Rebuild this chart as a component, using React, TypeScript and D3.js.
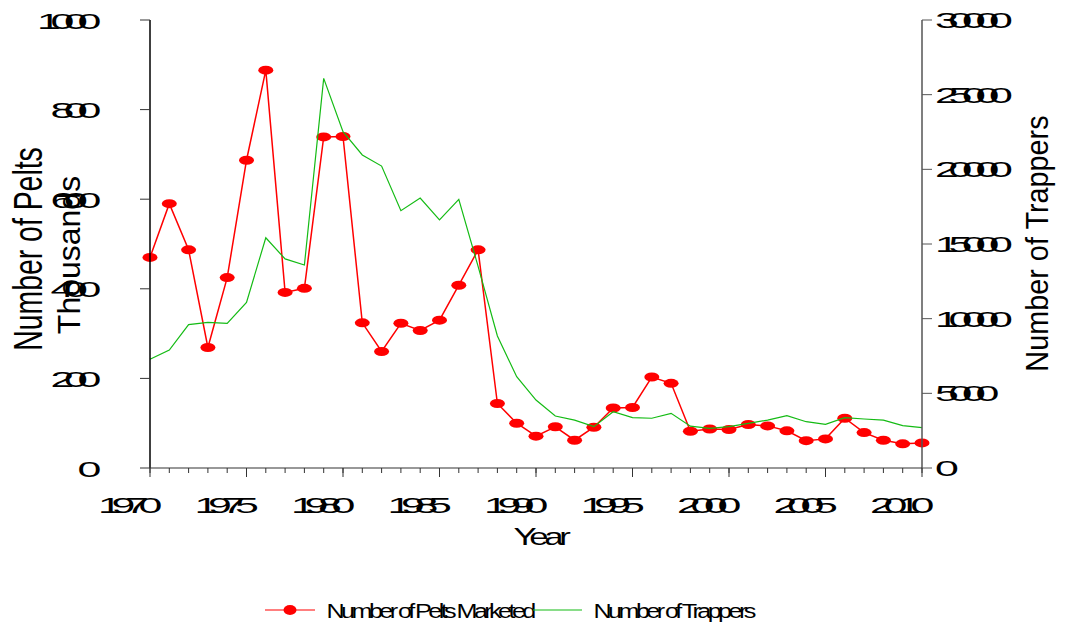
import React from "react";
import * as d3 from "d3";

const years: number[] = d3.range(1970, 2011);
const pelts: number[] = [
  470, 590, 487, 269, 425, 687, 888, 392, 401, 739, 740, 324, 260, 323, 307, 330, 408, 487,
  144, 100, 71, 92, 62, 91, 134, 135, 203, 189, 82, 87, 86, 97, 94, 83, 61, 65, 111, 79, 62, 54, 56,
];
const trappers: number[] = [
  7280, 7900, 9600, 9750, 9690, 11090, 15420, 14000, 13590, 26090, 22520, 20960, 20220, 17230,
  18080, 16610, 17990, 13500, 8840, 6110, 4550, 3480, 3210, 2770, 3770, 3370, 3330, 3660, 2800,
  2660, 2770, 2990, 3210, 3500, 3100, 2920, 3370, 3280, 3210, 2840, 2700,
];
const leftTicks: number[] = [0, 200, 400, 600, 800, 1000];
const rightTicks: number[] = [0, 5000, 10000, 15000, 20000, 25000, 30000];
const xMajorTicks: number[] = [1970, 1975, 1980, 1985, 1990, 1995, 2000, 2005, 2010];
const xMinorTicks: number[] = d3.range(1970, 2011);

const FONT = "'Liberation Sans', Arial, sans-serif";
const RED = "#ff0000";
const GREEN = "#14bb14";

const X0 = 150, X1 = 922, Y0 = 468, Y1 = 20;

type STextProps = {
  x: number; y: number; text: string; size: number; sx?: number; ls?: number;
  anchor?: "start" | "middle" | "end"; rot?: number; fill?: string;
};
function SText({ x, y, text, size, sx = 1, ls = 0, anchor = "start", rot = 0, fill = "#000" }: STextProps) {
  return (
    <text
      transform={`translate(${x},${y}) rotate(${rot}) scale(${sx},1)`}
      fontFamily={FONT}
      fontSize={size}
      letterSpacing={ls}
      textAnchor={anchor}
      fill={fill}
    >
      {text}
    </text>
  );
}

export default function App() {
  const x = d3.scaleLinear().domain([1970, 2010]).range([X0, X1]);
  const yL = d3.scaleLinear().domain([0, 1000]).range([Y0, Y1]);
  const yR = d3.scaleLinear().domain([0, 30000]).range([Y0, Y1]);

  const peltLine = d3.line<number>().x((_, i) => x(years[i])).y((d) => yL(d))(pelts) || "";
  const trapLine = d3.line<number>().x((_, i) => x(years[i])).y((d) => yR(d))(trappers) || "";

  const NUM = { size: 22, sx: 1.95, ls: -5.3 };

  return (
    <svg
      width={1073}
      height={624}
      style={{ position: "absolute", left: 0, top: 0, background: "#fff" }}
    >
      <rect x={0} y={0} width={1073} height={624} fill="#fff" />

      {/* data */}
      <path d={peltLine} fill="none" stroke={RED} strokeWidth={1.5} />
      {pelts.map((v, i) => (
        <ellipse key={i} cx={x(years[i])} cy={yL(v)} rx={7.5} ry={4.5} fill={RED} />
      ))}
      <path d={trapLine} fill="none" stroke={GREEN} strokeWidth={1.2} />

      {/* left axis */}
      <line x1={X0} y1={Y1} x2={X0} y2={Y0} stroke="#000" strokeWidth={1.5} />
      {leftTicks.map((t) => (
        <g key={"l" + t}>
          <line x1={X0 - 10} x2={X0} y1={yL(t)} y2={yL(t)} stroke="#333" strokeWidth={1} />
          <SText x={91} y={yL(t) + 8.5} text={String(t)} size={NUM.size} sx={NUM.sx} ls={NUM.ls} anchor="end" />
        </g>
      ))}

      {/* right axis */}
      <line x1={X1} y1={Y1} x2={X1} y2={Y0} stroke="#555" strokeWidth={1.5} />
      {rightTicks.map((t) => (
        <g key={"r" + t}>
          <line x1={X1} x2={X1 + 10} y1={yR(t)} y2={yR(t)} stroke="#555" strokeWidth={1} />
          <SText x={935} y={yR(t) + 8} text={String(t)} size={NUM.size} sx={NUM.sx} ls={NUM.ls} anchor="start" />
        </g>
      ))}

      {/* x axis */}
      <line x1={X0} y1={Y0} x2={X1} y2={Y0} stroke="#333" strokeWidth={1.2} />
      {xMinorTicks.map((t) => (
        <line key={"m" + t} x1={x(t)} x2={x(t)} y1={Y0} y2={Y0 + 5} stroke="#333" strokeWidth={1} />
      ))}
      {xMajorTicks.map((t) => (
        <g key={"x" + t}>
          <line x1={x(t)} x2={x(t)} y1={Y0} y2={Y0 + 9} stroke="#333" strokeWidth={1} />
          <SText x={x(t) - 25} y={513} text={String(t)} size={NUM.size} sx={NUM.sx} ls={NUM.ls} anchor="middle" />
        </g>
      ))}

      {/* axis titles */}
      <SText x={540} y={545} text="Year" size={24} sx={1.45} ls={-3} anchor="middle" />
      <SText x={42} y={249} text="Number of Pelts" size={40} sx={0.71} rot={-90} anchor="middle" />
      <SText x={80} y={255} text="Thousands" size={32} sx={1} rot={-90} anchor="middle" />
      <SText x={1048} y={243.5} text="Number of Trappers" size={31} sx={0.93} rot={-90} anchor="middle" />

      {/* legend */}
      <line x1={265} x2={315} y1={610} y2={610} stroke={RED} strokeWidth={1.2} />
      <ellipse cx={290} cy={610} rx={6.5} ry={5} fill={RED} />
      <SText x={326.5} y={618} text="Number of Pelts Marketed" size={21} sx={1.2} ls={-3} />
      <line x1={533} x2={582} y1={610} y2={610} stroke={GREEN} strokeWidth={1.2} />
      <SText x={593.5} y={618} text="Number of Trappers" size={21} sx={1.2} ls={-3} />
    </svg>
  );
}
